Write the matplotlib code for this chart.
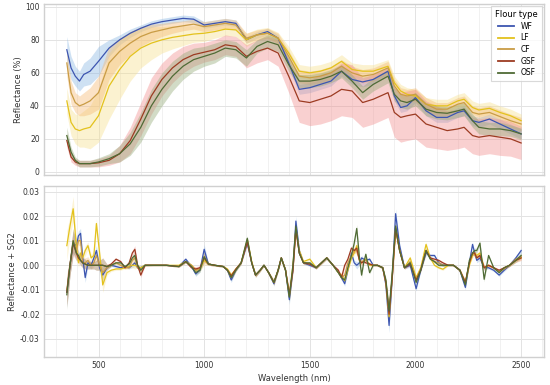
import numpy as np
import matplotlib
matplotlib.use("Agg")
import matplotlib.pyplot as plt
from matplotlib.ticker import MultipleLocator

# wavelengths (nm) for the reflectance panel
wl_top = [350, 370, 390, 410, 430, 460, 500, 550, 600, 650,
          700, 750, 800, 850, 900, 950, 1000, 1050, 1100, 1150,
          1200, 1250, 1300, 1350, 1400, 1450, 1500, 1550, 1600, 1650,
          1700, 1750, 1800, 1870, 1900, 1930, 1960, 2000, 2050, 2100,
          2150, 2200, 2230, 2270, 2300, 2350, 2400, 2450, 2500]

# mean reflectance (%)
wf_mean = [74, 63, 58, 55, 59, 61, 67, 75, 80, 84,
           87, 89.5, 91, 92, 93, 92.5, 89, 90, 91, 90,
           80, 83, 85, 81, 66, 50, 51, 53, 55, 61,
           56, 54.5, 56, 61, 46, 39, 40, 45, 37, 33,
           33, 36, 37, 31, 30, 32, 29, 26, 23]
lf_mean = [43, 30, 26, 25, 26, 27, 34, 52, 62, 70,
           75, 78, 80, 81.5, 82.5, 83.5, 84, 85, 86.5, 86,
           80, 83, 84, 81, 72, 61, 60, 61, 63, 67,
           62, 61, 61, 64, 54, 49, 47, 46, 41, 40,
           40, 43, 44, 39, 37.5, 38.5, 36, 34, 31]
cf_mean = [66, 48, 42, 40, 41, 43, 48, 66, 73, 78,
           82, 84.5, 86, 87.5, 88.5, 89.5, 88, 89, 90, 89,
           81, 83, 84, 81, 70, 58, 57, 58, 60, 64,
           60, 58, 59, 63, 52, 47, 46, 47, 41, 38,
           38, 41, 42, 36, 35, 36, 33.5, 31, 29]
gsf_mean = [19, 9, 6, 5, 5, 5, 5.5, 7, 11, 19,
            32, 46, 56, 63, 68, 71, 72.5, 74, 77, 76,
            70, 73, 75, 72, 58, 43, 42, 44, 46, 50,
            49, 42, 44, 48, 36, 33, 34, 35, 29, 27,
            25, 26, 27, 22, 21, 22, 21, 20, 17.5]
osf_mean = [22, 12, 7, 5, 5, 5, 6, 8, 11, 17,
            27, 40, 50, 58, 64, 68, 70, 72, 75, 74,
            69, 76, 79, 77, 65, 55, 55, 56, 58, 61,
            55, 48, 53, 58, 47, 43, 42, 44, 38, 36,
            35.5, 37, 38, 31, 27, 26, 26, 25, 23]

# spread of reflectance (%)
wf_sd = [8, 7, 6, 6, 7, 8, 9, 5, 3, 2.5,
         2, 2, 2, 2, 2, 2, 2, 2, 2, 2,
         2, 2, 2, 2, 2.5, 3, 3, 3, 3, 3,
         3, 3, 3, 3, 3, 3, 3, 3, 3, 3,
         3, 3, 3, 3, 3, 3, 3, 3, 3]
lf_sd = [8, 8, 9, 10, 11, 13, 16, 20, 18, 15,
         12, 10, 8, 7, 6, 5, 5, 4, 4, 4,
         4, 3.5, 3.5, 3.5, 4, 4, 4, 4, 4, 4,
         4, 4, 4, 4, 4, 4, 4, 4, 4, 4,
         4, 4, 4, 4, 4, 4, 4, 4, 4]
cf_sd = [8, 7, 6, 6, 7, 8, 10, 10, 8, 7,
         6, 5, 4, 3.5, 3, 3, 3, 3, 3, 3,
         3, 3, 3, 3, 3.5, 4, 4, 4, 4, 4,
         4, 4, 4, 4, 4, 4, 4, 4, 4, 4,
         4, 4, 4, 4, 4, 4, 4, 4, 4]
gsf_sd = [4, 3, 2, 2, 2, 2, 2.5, 3, 5, 8,
          10, 11, 10, 9, 8, 7, 6, 6, 6, 6,
          7, 7, 7, 8, 10, 13, 14, 15, 15, 16,
          16, 15, 15, 15, 15, 15, 15, 15, 14, 13,
          12, 12, 12, 11, 11, 11, 11, 10.5, 10]
osf_sd = [5, 3, 2, 2, 2, 2, 2.5, 3, 5, 7,
          9, 10, 10, 9, 8, 7, 6, 6, 5, 5,
          5, 4, 4, 4, 4, 4, 4, 4, 4, 4,
          4, 4, 4, 4, 4, 4, 4, 4, 4, 4,
          4, 4, 4, 4, 4, 4, 4, 3.5, 3.5]

# wavelengths (nm) for the second-derivative panel
wl_sg = [350, 365, 380, 395, 405, 415, 425, 437, 450, 465,
         478, 490, 505, 520, 540, 560, 583, 605, 625, 645,
         660, 672, 685, 700, 720, 760, 820, 880, 913, 940,
         960, 980, 1000, 1020, 1050, 1090, 1110, 1128, 1150, 1175,
         1204, 1225, 1243, 1265, 1283, 1305, 1330, 1350, 1365, 1385,
         1403, 1420, 1434, 1450, 1470, 1500, 1530, 1555, 1580, 1610,
         1635, 1650, 1665, 1680, 1697, 1710, 1722, 1735, 1745, 1755,
         1765, 1783, 1800, 1820, 1845, 1860, 1875, 1890, 1906, 1925,
         1948, 1975, 2003, 2025, 2050, 2070, 2090, 2110, 2130, 2155,
         2180, 2210, 2236, 2255, 2270, 2280, 2290, 2305, 2325, 2346,
         2370, 2396, 2420, 2445, 2475, 2500]

# SG2 values, in units of 1e-3
wf_sg = [-11, 0, 9, 8, 12, 13, 3, -5, 1, 0,
         3, 6, -1, -4, -1, 0, -0.5, -1, -0.5, -1,
         0, 1, -1, -1, 0, 0, 0, -0.5, 2.5, -0.5,
         -3.5, -2, 6.5, 0.5, 0, -0.5, -2, -6, -2, 1,
         9, 1, -4, -2, 0, -3, -7.5, -2, 3, -2,
         -14, -2, 18, 6, 1, 0, -1, 1, 3, 0,
         -3, -5, -7.5, -2, 5, 1, 0, 1, 3, 2.5,
         2, 2.5, 0, 0, -1, -8, -24.5, -5, 21, 8,
         -1, 0, -9.5, -2, 5, 4, 4, 1, 0, 0,
         0, -2, -9, 1, 8.5, 5, 2, 3, -1, -1,
         -2, -4, -2, 0, 3, 6]
lf_sg = [8, 16, 23, 8, 1, 5, 3, 6, 8, 3,
         4, 17, 5, -8, -3, -2, -1.5, -1.5, -1, -0.5,
         0, 0, -0.5, -1, 0, 0, 0, 0, 1.5, 0,
         -2, -1.5, 2, 0.5, 0, -0.5, -1.5, -4, -1.5, 1,
         10.5, 1.5, -4, -2, 0, -3, -7, -2, 3, -2,
         -12, 0, 14.5, 6, 1.5, 2.5, -1, 1, 3, 0,
         -3, -4, -6.3, -2, 3, 5, 8, 2, 1, 2,
         2.5, 0, 0, 0, -1, -7, -21, -4, 14.5, 6,
         -1, 3, -5, -1, 8.5, 3, 0, -1, -1.6, 0,
         0, -2, -7, 0, 4, 5, 4, 5, -1, 0,
         -1, -2.5, -1, 0, 2, 3]
cf_sg = [-10, 0, 10, 6, 10, 10, 1, 1, 2, 0,
         1, 4, 0, -3, -1, 0, 1, 0, -1, -1,
         2, 3, -1, -2, 0, 0, 0, -0.5, 1.5, 0,
         -2, -1.5, 3.5, 0.5, 0, -0.5, -2, -5, -2, 1,
         10, 1, -4, -2, 0, -3, -7, -2, 3, -2,
         -12.5, -2, 15, 5, 1, 0.5, -1, 1, 3, 0,
         -3, -5, -4, 1, 4, 6, 6, 2, 1, 2,
         2, 0.5, 0, 0, -1, -7, -19, -5, 15, 6,
         -1, 1.5, -6, -1.5, 6, 3, 1.5, 1, 0, 0,
         0, -2, -7, 1, 5, 4.5, 3, 4, -1, 0,
         -1, -2.5, -1.5, 0, 2.5, 3.5]
gsf_sg = [-11, 0, 9, 5, 3, 2, 1, 0.5, 0, 0,
          0, 0, 0, 0, -0.5, 0.5, 2.5, 1.5, -1, 1,
          5, 6.5, 0, -4, 0, 0, 0, -0.5, 1.5, -1,
          -1.5, -1, 3, 0.5, 0, -0.5, -2, -4.3, -1.5, 1,
          9.5, 1, -4, -2, 0, -3, -7, -2, 3, -2,
          -12, -2, 14.5, 5, 1, 0.5, -1, 1, 3, 0,
          -2, -5, 0, 2.5, 7, 6, 7, 2, 1, 1.5,
          1, 0.5, 0, 0, -1, -7, -20, -5, 15, 6,
          -1, 0.5, -6, -2, 6, 3, 2.5, 2, 1, 0,
          0, -2, -7, 1, 5, 5, 3, 4, -1, 0,
          -1, -2, -1, 0, 2, 3]
osf_sg = [-12, 0, 10, 5, 4, 2, 1, 0.5, 0, 0,
          0, 0, 0, 0, -0.5, 0, 1, 1, -0.5, 0.5,
          3, 4, 0, -2, 0, 0, 0, -0.5, 1.5, -0.5,
          -3, -2, 3.5, 0.5, 0, -0.5, -2, -5, -2, 1,
          11, 1, -4, -2, 0, -3, -7, -2, 3, -2,
          -13, 0, 16, 5, 1, 1, -1, 1, 3, 0,
          -3, -5, -6, -1, 4, 9, 15, 3, -4, 1,
          4.5, -3, 0, 0, -1, -6, -18.6, -3, 16, 6,
          -1, 1, -7, -2, 6, 2.5, 1.5, 0, 0, 0,
          0, -2, -8, 2, 5, 6, 6, 9, -5.7, 4,
          -1, -3, -1, 0, 2, 4]
sg_spread = [6, 4, 5, 3, 2, 2, 2, 2, 1.5, 1.5,
             1.5, 2, 2, 3, 1, 0.5, 0.5, 0.5, 0.5, 0.5,
             1, 1.5, 0.5, 1, 0.3, 0.2, 0.2, 0.3, 0.5, 0.5,
             1, 0.8, 2, 0.5, 0.3, 0.3, 0.5, 1, 0.5, 0.5,
             1, 0.5, 0.8, 0.5, 0.3, 0.5, 1, 0.5, 0.5, 0.5,
             2, 1, 2, 1, 0.5, 0.5, 0.5, 0.5, 0.5, 0.3,
             0.5, 1, 1, 0.5, 1, 1, 1.5, 1, 1, 0.5,
             0.5, 0.5, 0.3, 0.3, 0.5, 1, 3, 1, 2, 1,
             0.5, 0.8, 1, 0.5, 1, 0.5, 0.5, 0.5, 0.5, 0.3,
             0.3, 0.5, 1, 0.5, 1, 1, 1, 1, 1, 0.5,
             0.5, 0.5, 0.5, 0.5, 0.8, 1]

flours = ["WF", "LF", "CF", "GSF", "OSF"]
line_colors = ["#3d55b0", "#e3c21c", "#c99c45", "#9c3b22", "#4f6b35"]
band_colors = ["#86b4e3", "#f7df8a", "#f5b870", "#f28b8b", "#8fa772"]

means = [wf_mean, lf_mean, cf_mean, gsf_mean, osf_mean]
sds = [wf_sd, lf_sd, cf_sd, gsf_sd, osf_sd]
sgs = [wf_sg, lf_sg, cf_sg, gsf_sg, osf_sg]

plt.rcParams["font.family"] = "DejaVu Sans"
plt.rcParams["axes.unicode_minus"] = True

fig = plt.figure(figsize=(5.5, 3.85), dpi=100)
ax1 = fig.add_axes([0.08, 0.545, 0.909, 0.445])
ax2 = fig.add_axes([0.08, 0.073, 0.909, 0.444], sharex=ax1)

x1 = np.array(wl_top)
x2 = np.array(wl_sg)
spread = np.array(sg_spread) * 1e-3

for i in range(len(flours)):
    m = np.array(means[i])
    s = np.array(sds[i])
    ax1.fill_between(x1, m - s, m + s, color=band_colors[i], alpha=0.4, lw=0)
    d = np.array(sgs[i]) * 1e-3
    ax2.fill_between(x2, d - spread, d + spread, color=band_colors[i], alpha=0.35, lw=0)

for i in range(len(flours)):
    ax1.plot(x1, means[i], color=line_colors[i], lw=0.9, label=flours[i])
    ax2.plot(x2, np.array(sgs[i]) * 1e-3, color=line_colors[i], lw=0.9)

for ax in (ax1, ax2):
    ax.set_xlim(242, 2608)
    ax.xaxis.set_major_locator(MultipleLocator(500))
    ax.xaxis.set_minor_locator(MultipleLocator(100))
    ax.grid(True, which="major", color="#e3e3e3", lw=0.7)
    ax.grid(True, which="minor", axis="x", color="#ececec", lw=0.5)
    ax.set_axisbelow(True)
    ax.tick_params(which="both", length=0, labelsize=5.5, colors="#333333", pad=3)
    for sp in ax.spines.values():
        sp.set_color("#d0d0d0")
        sp.set_linewidth(1.0)

ax1.set_ylim(-2, 101.8)
ax1.yaxis.set_major_locator(MultipleLocator(20))
ax1.tick_params(axis="x", labelbottom=False)
ax1.set_ylabel("Reflectance (%)", fontsize=6, color="#333333", labelpad=2)

ax2.set_ylim(-0.0373, 0.0323)
ax2.yaxis.set_major_locator(MultipleLocator(0.01))
ax2.yaxis.set_major_formatter(matplotlib.ticker.FormatStrFormatter("%.2f"))
ax2.set_ylabel("Reflectance + SG2", fontsize=6, color="#333333", labelpad=2)
ax2.set_xlabel("Wavelength (nm)", fontsize=6, color="#333333", labelpad=3)

leg = ax1.legend(title="Flour type", loc="upper right", fontsize=5.5, title_fontsize=6,
                 frameon=True, fancybox=False, handlelength=2.2, borderpad=0.5,
                 labelspacing=0.35, borderaxespad=0.3)
leg.get_frame().set_edgecolor("#d0d0d0")
leg.get_frame().set_linewidth(0.8)
for h in leg.legend_handles:
    h.set_linewidth(1.3)

fig.savefig("out.png", dpi=100)
